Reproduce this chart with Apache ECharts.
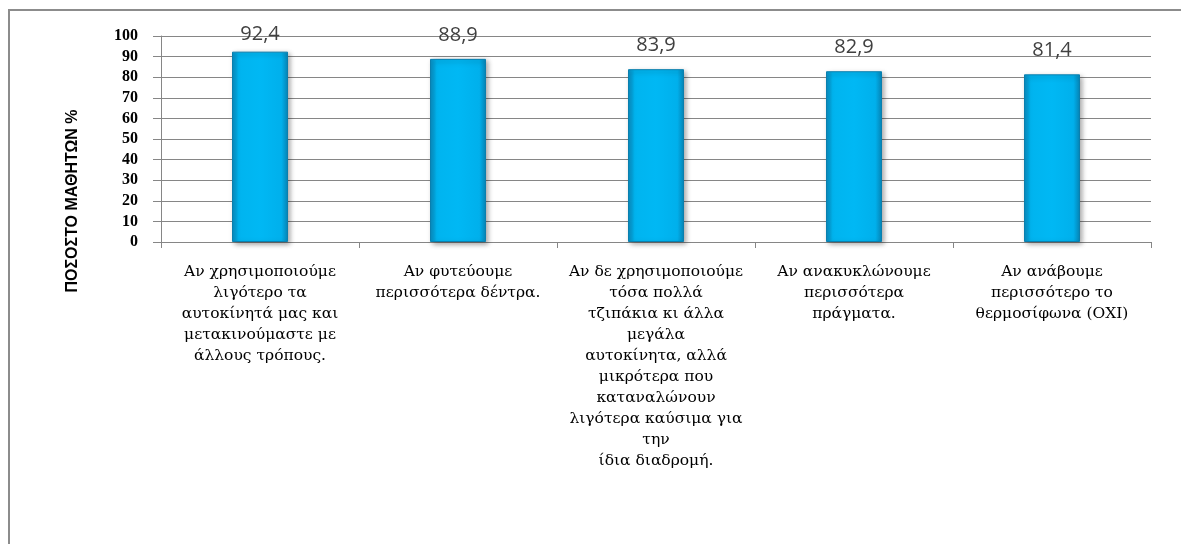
<!DOCTYPE html>
<html>
<head>
<meta charset="utf-8">
<script src="https://cdn.jsdelivr.net/npm/echarts@6/dist/echarts.min.js"></script>
<style>
  html, body { margin: 0; padding: 0; background: #ffffff; }
  #chart { width: 1181px; height: 544px; }
</style>
</head>
<body>
<div id="chart"></div>
<script>
// Survey answers (line breaks as laid out under each bar)
const categories = [
  'Αν χρησιμοποιούμε\nλιγότερο τα\nαυτοκίνητά μας και\nμετακινούμαστε με\nάλλους τρόπους.',
  'Αν φυτεύουμε\nπερισσότερα δέντρα.',
  'Αν δε χρησιμοποιούμε\nτόσα πολλά\nτζιπάκια κι άλλα\nμεγάλα\nαυτοκίνητα, αλλά\nμικρότερα που\nκαταναλώνουν\nλιγότερα καύσιμα για\nτην\nίδια διαδρομή.',
  'Αν ανακυκλώνουμε\nπερισσότερα\nπράγματα.',
  'Αν ανάβουμε\nπερισσότερο το\nθερμοσίφωνα (ΟΧΙ)'
];
// Percentage of students per answer
const values = [92.4, 88.9, 83.9, 82.9, 81.4];
const yAxisTitle = 'ΠΟΣΟΣΤΟ ΜΑΘΗΤΩΝ %';

const chart = echarts.init(document.getElementById('chart'), null, { renderer: 'canvas' });

const barFill = new echarts.graphic.LinearGradient(0, 0, 1, 0, [
  { offset: 0, color: '#0a8cc0' },
  { offset: 0.12, color: '#00b4ef' },
  { offset: 0.5, color: '#00b8f4' },
  { offset: 0.88, color: '#00b0ec' },
  { offset: 1, color: '#0786b8' }
]);

// Labels of the tallest bars are pulled closer so they stay inside the frame
const barData = values.map(v => (v > 90 ? { value: v, label: { distance: 7 } } : v));

chart.setOption({
  animation: false,
  backgroundColor: '#ffffff',
  grid: { left: 161, right: 30, top: 36, bottom: 302, containLabel: false },
  graphic: [
    {
      type: 'rect',
      shape: { x: 9, y: 10, width: 1220, height: 600 },
      style: { fill: 'none', stroke: '#8c8c8c', lineWidth: 2 },
      silent: true
    },
    {
      type: 'text',
      x: 73, y: 201,
      rotation: Math.PI / 2,
      style: {
        text: yAxisTitle,
        fill: '#000000',
        font: 'bold 16px "Liberation Sans", Arial, sans-serif',
        align: 'center',
        verticalAlign: 'middle'
      }
    }
  ],
  xAxis: {
    type: 'category',
    data: categories,
    axisLine: { lineStyle: { color: '#868686', width: 1 } },
    axisTick: { show: true, length: 6, lineStyle: { color: '#868686' } },
    axisLabel: {
      interval: 0,
      margin: 19,
      color: '#000000',
      fontFamily: '"DejaVu Serif", "Liberation Serif", serif',
      fontSize: 15.5,
      lineHeight: 21,
      align: 'center'
    }
  },
  yAxis: {
    type: 'value',
    min: 0,
    max: 100,
    interval: 10,
    axisLine: { show: true, lineStyle: { color: '#868686', width: 1 } },
    axisTick: { show: true, length: 8, lineStyle: { color: '#868686' } },
    splitLine: { lineStyle: { color: '#868686', width: 1 } },
    axisLabel: {
      margin: 23,
      color: '#000000',
      fontFamily: '"Liberation Serif", "Times New Roman", serif',
      fontWeight: 'bold',
      fontSize: 16
    }
  },
  series: [{
    type: 'bar',
    data: barData,
    barWidth: 56,
    itemStyle: {
      color: barFill,
      borderColor: '#0a7fae',
      borderWidth: 1,
      shadowColor: 'rgba(0,0,0,0.35)',
      shadowBlur: 5,
      shadowOffsetX: 2,
      shadowOffsetY: 2
    },
    label: {
      show: true,
      position: 'top',
      distance: 14,
      color: '#404040',
      fontFamily: '"Open Sans", "Noto Sans", sans-serif',
      fontSize: 20,
      formatter: p => p.value.toFixed(1).replace('.', ',')
    }
  }]
});
</script>
</body>
</html>
